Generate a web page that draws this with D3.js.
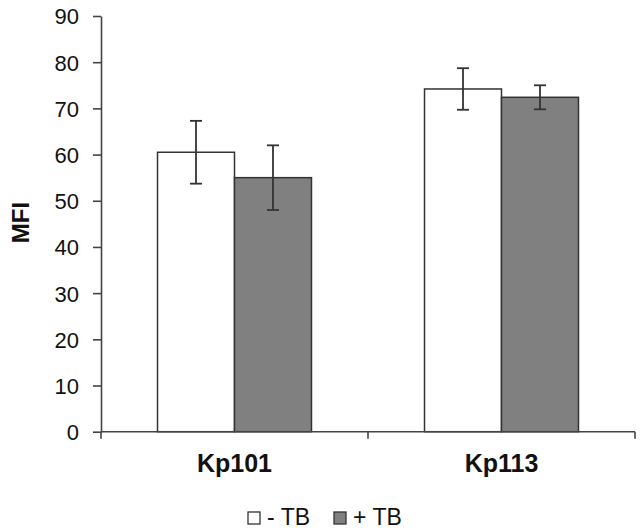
<!DOCTYPE html>
<html>
<head>
<meta charset="utf-8">
<script src="https://cdn.jsdelivr.net/npm/d3@7"></script>
<style>
  html, body { margin: 0; padding: 0; background: #fff; }
  svg { display: block; font-family: "Liberation Sans", Arial, sans-serif; }
</style>
</head>
<body>
<svg id="chart" width="643" height="532"></svg>
<script>
const categories = ["Kp101", "Kp113"];
const seriesNames = ["- TB", "+ TB"];
const meanMinusTB = [60.5, 74.2];
const meanPlusTB = [55.0, 72.4];
const errMinusTB = [6.8, 4.5];
const errPlusTB = [7.0, 2.6];
const yTicks = [0, 10, 20, 30, 40, 50, 60, 70, 80, 90];

const colors = ["#ffffff", "#808080"];
const ink = "#333333";

const data = categories.map((c, i) => ({
  cat: c,
  values: [
    { s: seriesNames[0], v: meanMinusTB[i], e: errMinusTB[i] },
    { s: seriesNames[1], v: meanPlusTB[i], e: errPlusTB[i] }
  ]
}));

const svg = d3.select("#chart");
const x0 = d3.scaleBand().domain(categories).range([101, 635]).paddingInner(0).paddingOuter(0);
const x1 = d3.scaleBand().domain(seriesNames).range([0, x0.bandwidth()]).paddingInner(0).paddingOuter(0.734);
const y = d3.scaleLinear().domain([0, 90]).range([431.7, 16]);

// bars
const g = svg.append("g");
const groups = g.selectAll("g.grp").data(data).join("g")
  .attr("transform", d => `translate(${x0(d.cat)},0)`);
groups.selectAll("rect").data(d => d.values).join("rect")
  .attr("x", d => x1(d.s))
  .attr("width", x1.bandwidth())
  .attr("y", d => y(d.v))
  .attr("height", d => y(0) - y(d.v))
  .attr("fill", (d, i) => colors[i])
  .attr("stroke", ink)
  .attr("stroke-width", 1.5);

// error bars
const capHalf = 6;
groups.selectAll("g.err").data(d => d.values).join("g").each(function(d) {
  const cx = x1(d.s) + x1.bandwidth() / 2;
  const e = d3.select(this);
  e.append("line").attr("x1", cx).attr("x2", cx).attr("y1", y(d.v + d.e)).attr("y2", y(d.v - d.e))
    .attr("stroke", ink).attr("stroke-width", 1.8);
  [d.v + d.e, d.v - d.e].forEach(val => {
    e.append("line").attr("x1", cx - capHalf).attr("x2", cx + capHalf).attr("y1", y(val)).attr("y2", y(val))
      .attr("stroke", ink).attr("stroke-width", 1.8);
  });
});

// y axis
const yAxis = d3.axisLeft(y).tickValues(yTicks).tickSize(8).tickPadding(14).tickSizeOuter(0);
const ya = svg.append("g").attr("transform", "translate(101,0)").call(yAxis);
ya.attr("font-family", null).attr("font-size", null);
ya.select(".domain").attr("stroke", "#444").attr("stroke-width", 1.6);
ya.selectAll(".tick line").attr("stroke", "#444").attr("stroke-width", 1.6);
ya.selectAll(".tick text").style("font-size", "22px").attr("fill", "#111").attr("dy", "0.36em");

// x axis
const xa = svg.append("g").attr("transform", `translate(0,${y(0)})`);
xa.append("line").attr("x1", 101).attr("x2", 635).attr("y1", 0).attr("y2", 0)
  .attr("stroke", "#444").attr("stroke-width", 1.6);
const boundaries = [x0(categories[0]), ...categories.map(c => x0(c) + x0.bandwidth())];
xa.selectAll("line.tk").data(boundaries).join("line")
  .attr("x1", d => d).attr("x2", d => d).attr("y1", 0).attr("y2", 7)
  .attr("stroke", "#444").attr("stroke-width", 1.6);
xa.selectAll("text").data(categories).join("text")
  .attr("x", d => x0(d) + x0.bandwidth() / 2)
  .attr("y", 40.5)
  .attr("text-anchor", "middle")
  .style("font-size", "25px")
  .attr("font-weight", "bold")
  .attr("fill", "#111")
  .text(d => d);

// y title
svg.append("text")
  .attr("transform", "translate(29,222.5) rotate(-90)")
  .attr("text-anchor", "middle")
  .style("font-size", "24px")
  .attr("font-weight", "bold")
  .attr("fill", "#111")
  .text("MFI");

// legend
const legendX = [248, 334];
const leg = svg.append("g");
seriesNames.forEach((s, i) => {
  leg.append("rect").attr("x", legendX[i]).attr("y", 512).attr("width", 12).attr("height", 12)
    .attr("fill", colors[i]).attr("stroke", ink).attr("stroke-width", 1.3);
  leg.append("text").attr("x", legendX[i] + 19).attr("y", 524.5)
    .style("font-size", "23px").attr("fill", "#111").text(s);
});
</script>
</body>
</html>
